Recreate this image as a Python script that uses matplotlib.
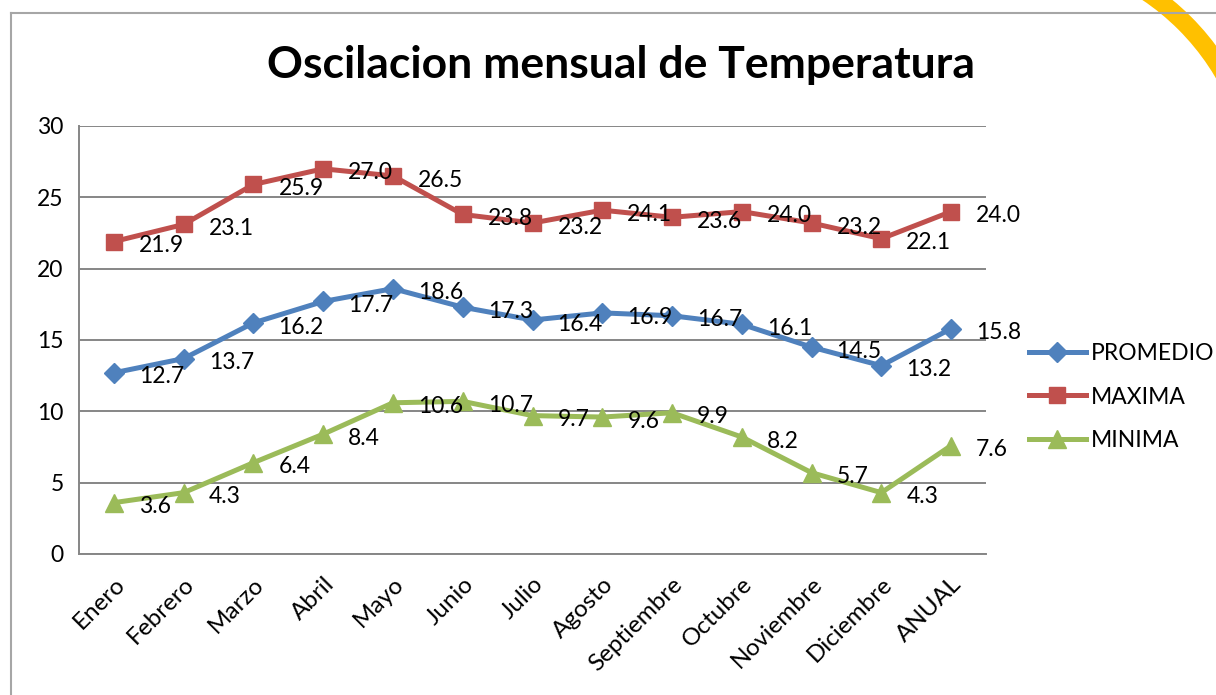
import matplotlib.pyplot as plt
import numpy as np
from matplotlib.patches import Arc
from matplotlib.lines import Line2D

meses = ['Enero', 'Febrero', 'Marzo', 'Abril', 'Mayo', 'Junio', 'Julio',
         'Agosto', 'Septiembre', 'Octubre', 'Noviembre', 'Diciembre', 'ANUAL']
promedio = [12.7, 13.7, 16.2, 17.7, 18.6, 17.3, 16.4, 16.9, 16.7, 16.1, 14.5, 13.2, 15.8]
maxima = [21.9, 23.1, 25.9, 27.0, 26.5, 23.8, 23.2, 24.1, 23.6, 24.0, 23.2, 22.1, 24.0]
minima = [3.6, 4.3, 6.4, 8.4, 10.6, 10.7, 9.7, 9.6, 9.9, 8.2, 5.7, 4.3, 7.6]

plt.rcParams['font.family'] = ['Lato', 'DejaVu Sans']

W, H = 1216, 695
fig = plt.figure(figsize=(W / 100, H / 100), dpi=100)
fig.patch.set_facecolor('white')

# outer chart frame (only top and left visible)
fig.add_artist(Line2D([11 / W, 11 / W], [0, 1 - 13 / H], color='#A6A6A6', lw=1.5))
fig.add_artist(Line2D([11 / W, 1], [1 - 13 / H, 1 - 13 / H], color='#A6A6A6', lw=1.5))

# yellow decorative arc in the corner
fig.add_artist(Arc((1008 / W, 1 - 200 / H), 500 / W, 500 / H, theta1=0, theta2=90,
                   transform=fig.transFigure, color='#FFC000', lw=13))

ax = fig.add_axes([79 / W, 1 - 554 / H, 907 / W, 428 / H])
x = np.arange(len(meses))

fs = 16.5
series = [
    ('PROMEDIO', promedio, '#4F81BD', 'D', 10),
    ('MAXIMA', maxima, '#C0504D', 's', 11.5),
    ('MINIMA', minima, '#9BBB59', '^', 13.5),
]
for name, vals, col, mk, ms in series:
    ax.plot(x, vals, color=col, lw=3.6, marker=mk, ms=ms, label=name, zorder=3)
    for xi, v in zip(x, vals):
        ax.annotate(f'{v:.1f}', (xi, v), xytext=(18, -3), textcoords='offset points',
                    ha='left', va='center', fontsize=fs, color='black', zorder=4)

ax.set_xlim(-0.5, len(meses) - 0.5)
ax.set_ylim(0, 30)
ax.set_yticks(range(0, 31, 5))
ax.yaxis.grid(True, color='#868686', lw=1.4)
ax.set_axisbelow(True)
for s in ['top', 'right']:
    ax.spines[s].set_visible(False)
for s in ['left', 'bottom']:
    ax.spines[s].set_color('#868686')
    ax.spines[s].set_linewidth(1.4)
ax.tick_params(axis='both', length=0, labelsize=fs)
ax.tick_params(axis='y', pad=11)
ax.set_xticks(x)
ax.set_xticklabels(meses, rotation=45, ha='right', rotation_mode='anchor', fontsize=17.5)
ax.tick_params(axis='x', pad=14)

fig.text(621 / W, 1 - 65 / H, 'Oscilacion mensual de Temperatura', ha='center',
         va='center', fontsize=32, fontweight='bold')

fig.legend(loc='center left', bbox_to_anchor=(1008 / W, 1 - 397 / H), frameon=False,
           fontsize=fs, handlelength=2.5, labelspacing=1.0, handletextpad=0.2)

fig.savefig('out.png', dpi=100)
